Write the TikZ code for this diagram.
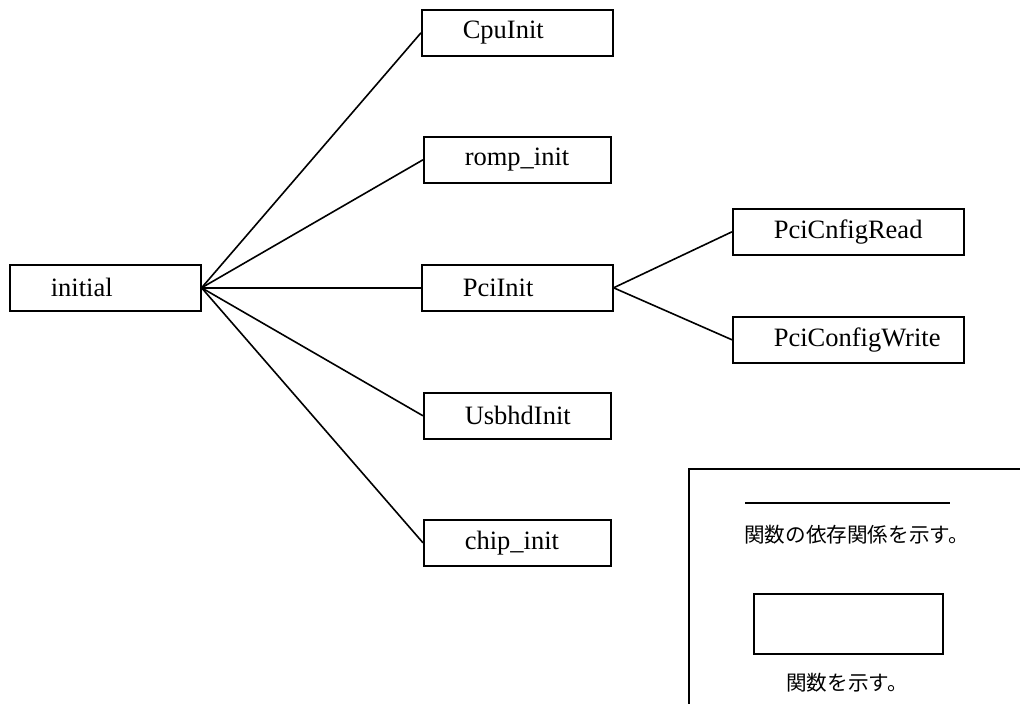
\documentclass[tikz,border=0pt]{standalone}
\usepackage{fontspec}
\setmainfont{Liberation Serif}
\newfontfamily\jpfont{Noto Sans CJK JP}
\begin{document}
\begin{tikzpicture}[x=1pt,y=-1pt,
  fn/.style={draw,line width=1.6pt,rectangle,anchor=north west,
    inner xsep=41pt,inner ysep=0pt,align=left,
    minimum height=46pt,font=\fontsize{26.5}{30}\selectfont},
  dep/.style={line width=1.6pt},
  note/.style={anchor=west,inner sep=0pt,font=\jpfont\fontsize{20.6}{24}\selectfont}]
  \clip (0,0) rectangle (1020,704);
  % function boxes
  \node[fn,text width=109pt] (initial) at (9,264) {initial};
  \node[fn,text width=109pt] (cpu)   at (421,9)   {CpuInit};
  \node[fn,text width=105pt] (romp)  at (423,136) {romp\_init};
  \node[fn,text width=109pt] (pci)   at (421,264) {PciInit};
  \node[fn,text width=105pt] (usb)   at (423,392) {UsbhdInit};
  \node[fn,text width=105pt] (chip)  at (423,519) {chip\_init};
  \node[fn,text width=149pt] (pread) at (732,208) {PciCnfigRead};
  \node[fn,text width=149pt] (pwrite) at (732,316) {PciConfigWrite};
  % dependencies
  \foreach \t in {cpu,romp,pci,usb,chip}
    \draw[dep] (initial.east) -- (\t.west);
  \draw[dep] (pci.east) -- (pread.west);
  \draw[dep] (pci.east) -- (pwrite.west);
  % legend
  \draw[line width=1.6pt] (689,469) rectangle (1040,720);
  \coordinate (la) at (745,503);
  \coordinate (lb) at (950,503);
  \draw[dep] (la) -- (lb);
  \node[note] (t1) at (744,535) {関数の依存関係を示す。};
  \node[draw,line width=1.6pt,anchor=north west,minimum width=189pt,minimum height=60pt,inner sep=0pt] (sample) at (753,593) {};
  \node[note] (t2) at (786,683) {関数を示す。};
\end{tikzpicture}
\end{document}
